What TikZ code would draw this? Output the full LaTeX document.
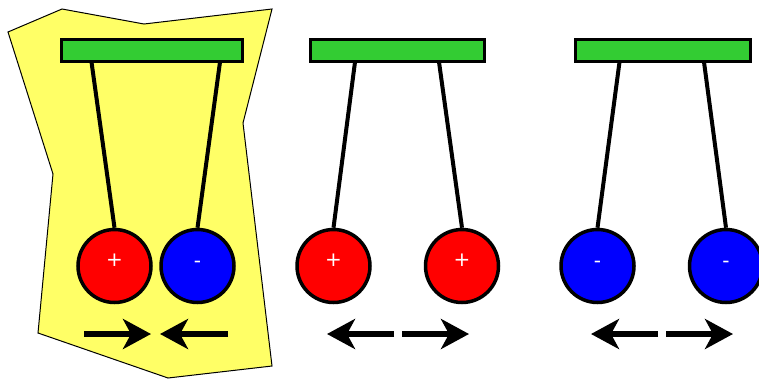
\documentclass[tikz,border=0pt]{standalone}
\usepackage{fontspec}
\setsansfont{DejaVu Sans}
\usetikzlibrary{arrows.meta}
\definecolor{bgyellow}{HTML}{FFFF66}
\definecolor{bargreen}{HTML}{33CC33}
\definecolor{ballred}{HTML}{FF0000}
\definecolor{ballblue}{HTML}{0000FF}
\tikzset{
  bar/.style={draw=black, line width=3pt, fill=bargreen, rectangle, inner sep=0pt, minimum width=181pt, minimum height=22.5pt},
  ball/.style={draw=black, line width=3.5pt, circle, inner sep=0pt, minimum size=73pt},
  posball/.style={ball, fill=ballred},
  negball/.style={ball, fill=ballblue},
  sign/.style={text=white, font=\sffamily\fontsize{20}{20}\selectfont, anchor=base, inner sep=0pt},
  thread/.style={line width=4pt},
  push/.style={line width=6pt, -{Stealth[length=28pt, width=30pt, inset=8pt]}},
}
\begin{document}
\begin{tikzpicture}[x=1pt, y=-1pt]
\useasboundingbox (0,0) rectangle (759,378);
\clip (0,0) rectangle (759,378);
% yellow patch
\filldraw[fill=bgyellow, draw=black, line width=1pt]
  (8,32) -- (62,9) -- (144,24) -- (272,9) -- (243,123) -- (272,366)
  -- (168,378) -- (38,333) -- (53,174) -- cycle;
% bars
\node[bar] (bar1) at (152,50.5) {};
\node[bar, minimum width=174pt] (bar2) at (397.5,50.5) {};
\node[bar, minimum width=175pt] (bar3) at (662.5,50.5) {};
% attachment points
\coordinate (t1l) at (91.5,62);
\coordinate (t1r) at (220,62);
\coordinate (t2l) at (355,62);
\coordinate (t2r) at (439,62);
\coordinate (t3l) at (619.5,62);
\coordinate (t3r) at (704,62);
% balls
\node[posball] (b1l) at (114.5,266) {};
\node[negball] (b1r) at (197.5,266) {};
\node[posball] (b2l) at (333.5,266) {};
\node[posball] (b2r) at (462,266) {};
\node[negball] (b3l) at (597.5,266) {};
\node[negball] (b3r) at (726,266) {};
% threads
\draw[thread] (t1l) -- (b1l.north);
\draw[thread] (t1r) -- (b1r.north);
\draw[thread] (t2l) -- (b2l.north);
\draw[thread] (t2r) -- (b2r.north);
\draw[thread] (t3l) -- (b3l.north);
\draw[thread] (t3r) -- (b3r.north);
% signs
\node[sign] (s1l) at (b1l.center) {+};
\node[sign] (s1r) at ([yshift=-1pt]b1r.center) {-};
\node[sign] (s2l) at (b2l.center) {+};
\node[sign] (s2r) at (b2r.center) {+};
\node[sign] (s3l) at ([yshift=-1pt]b3l.center) {-};
\node[sign] (s3r) at ([yshift=-1pt]b3r.center) {-};
% force arrows
\coordinate (a1s) at (84,334);   \coordinate (a1e) at (151,334);
\coordinate (a2s) at (228,334);  \coordinate (a2e) at (160,334);
\coordinate (a3s) at (394,334);  \coordinate (a3e) at (327,334);
\coordinate (a4s) at (402,334);  \coordinate (a4e) at (469,334);
\coordinate (a5s) at (658,334);  \coordinate (a5e) at (591,334);
\coordinate (a6s) at (666,334);  \coordinate (a6e) at (733,334);
\draw[push] (a1s) -- (a1e);
\draw[push] (a2s) -- (a2e);
\draw[push] (a3s) -- (a3e);
\draw[push] (a4s) -- (a4e);
\draw[push] (a5s) -- (a5e);
\draw[push] (a6s) -- (a6e);
\end{tikzpicture}
\end{document}
